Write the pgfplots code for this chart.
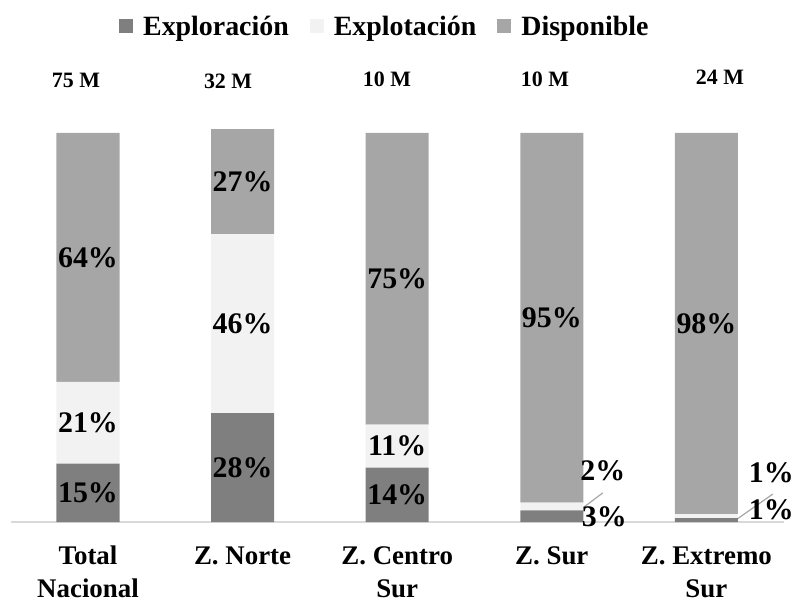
\documentclass[border=0pt]{standalone}
\usepackage{fontspec}
\setmainfont{Liberation Serif}
\usepackage{pgfplots}
\pgfplotsset{compat=1.18}
\definecolor{cA}{HTML}{7F7F7F}
\definecolor{cB}{HTML}{F2F2F2}
\definecolor{cC}{HTML}{A6A6A6}
\definecolor{cL}{HTML}{D9D9D9}
\tikzset{pl/.style={font=\fontsize{30}{32}\selectfont\bfseries},
         tl/.style={font=\fontsize{22}{26}\selectfont\bfseries}}
\begin{document}
\begin{tikzpicture}
\path[use as bounding box] (-88bp,-79bp) rectangle (707bp,522bp);
\begin{axis}[
  anchor=origin, at={(0,0)},
  x=154.6bp, y=3.89bp,
  xmin=-0.5, xmax=4.5, ymin=0, ymax=100,
  ybar stacked, bar width=63bp,
  clip=false,
  axis x line*=bottom, hide y axis,
  x axis line style={color=cL, line width=1.5bp},
  xtick={0,1,2,3,4},
  xticklabels={{Total\\Nacional},{Z. Norte\\\mbox{}},{Z. Centro\\Sur},{Z. Sur\\\mbox{}},{Z. Extremo\\Sur}},
  xticklabel style={align=center, font=\fontsize{27}{33}\selectfont\bfseries, anchor=base, inner sep=0pt, yshift=-75bp},
  major tick length=0pt,
  legend style={at={(axis cs:1.92,127.3)}, anchor=center, draw=none, fill=none,
    legend columns=-1, font=\fontsize{28}{30}\selectfont\bfseries,
    /tikz/every odd column/.append style={column sep=8bp},
    /tikz/every even column/.append style={column sep=19bp}},
  legend image code/.code={\fill[#1] (0bp,-6bp) rectangle (14bp,8bp);},
]
\addplot[fill=cA, draw=none] coordinates {(0,15) (1,28) (2,14) (3,3) (4,1)};
\addplot[fill=cB, draw=none] coordinates {(0,21) (1,46) (2,11) (3,2) (4,1)};
\addplot[fill=cC, draw=none] coordinates {(0,64) (1,27) (2,75) (3,95) (4,98)};
\legend{Exploración, Explotación, Disponible}
\coordinate (a1) at (axis cs:0,7.5);
\coordinate (a2) at (axis cs:0,25.5);
\coordinate (a3) at (axis cs:0,68);
\coordinate (b1) at (axis cs:1,14);
\coordinate (b2) at (axis cs:1,51);
\coordinate (b3) at (axis cs:1,87.5);
\coordinate (c1) at (axis cs:2,7);
\coordinate (c2) at (axis cs:2,19.5);
\coordinate (c3) at (axis cs:2,62.5);
\coordinate (d3) at (axis cs:3,52.5);
\coordinate (d2) at (axis cs:3.33,13.1);
\coordinate (d1) at (axis cs:3.34,1.3);
\coordinate (e3) at (axis cs:4,51);
\coordinate (e2) at (axis cs:4.42,12.6);
\coordinate (e1) at (axis cs:4.42,3.1);
\draw[cC, line width=1.2bp] (axis cs:3.20,3.6) -- (axis cs:3.33,7.5);
\draw[cC, line width=1.2bp] (axis cs:4.20,0.8) -- (axis cs:4.43,7.2);
\node[tl] at (axis cs:-0.078,113.4) {75 M};
\node[tl] at (axis cs:0.906,113.4) {32 M};
\node[tl] at (axis cs:1.934,113.9) {10 M};
\node[tl] at (axis cs:2.956,113.8) {10 M};
\node[tl] at (axis cs:4.088,114.4) {24 M};
\end{axis}
\node[pl] at (a1) {15\%};
\node[pl] at (a2) {21\%};
\node[pl] at (a3) {64\%};
\node[pl] at (b1) {28\%};
\node[pl] at (b2) {46\%};
\node[pl] at (b3) {27\%};
\node[pl] at (c1) {14\%};
\node[pl] at (c2) {11\%};
\node[pl] at (c3) {75\%};
\node[pl] at (d3) {95\%};
\node[pl] at (d2) {2\%};
\node[pl] at (d1) {3\%};
\node[pl] at (e3) {98\%};
\node[pl] at (e2) {1\%};
\node[pl] at (e1) {1\%};
\end{tikzpicture}
\end{document}
